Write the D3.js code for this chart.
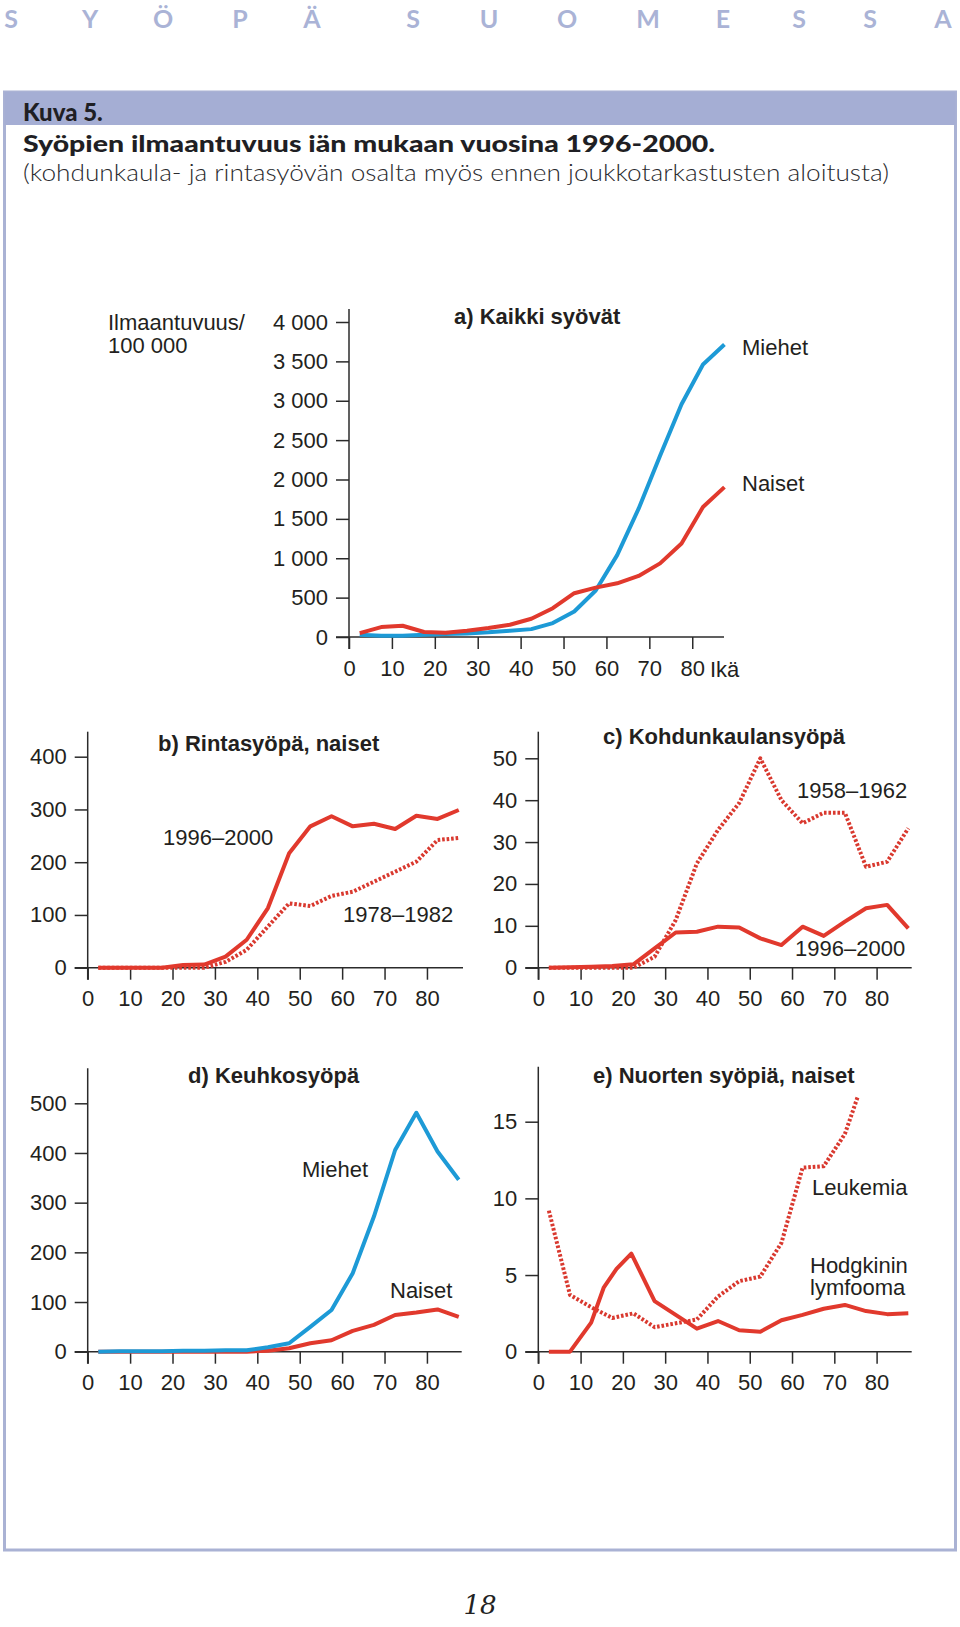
<!DOCTYPE html>
<html><head><meta charset="utf-8">
<script src="https://cdn.jsdelivr.net/npm/d3@7/dist/d3.min.js"></script>
<style>body{margin:0;background:#fff}svg{display:block}</style>
</head><body>
<script>
// ---------- DATA ----------
const headerLetters = ["S","Y","Ö","P","Ä","S","U","O","M","E","S","S","A"];
const ages = [2.5,7.5,12.5,17.5,22.5,27.5,32.5,37.5,42.5,47.5,52.5,57.5,62.5,67.5,72.5,77.5,82.5,87.5];
const allMen   = [30,17,17,30,38,46,59,80,100,177,324,590,1040,1630,2303,2956,3461,3714];
const allWomen = [50,126,143,63,55,80,114,156,232,366,556,627,682,775,935,1187,1650,1903];
const breast1996 = [0,0,0,0,5,6,21,53,113,217,268,287,268,273,263,288,282,299];
const breast1978 = [0,0,0,0,0,0,11,34,78,122,117,136,144,163,182,201,242,246];
const cervix1996 = [0,0.1,0.2,0.4,0.8,4.6,8.4,8.6,9.8,9.6,7.0,5.4,9.8,7.6,11.0,14.2,15.0,9.4];
const cervix1958 = [0,0,0,0,0,2.6,11.4,24.9,32.9,39.3,50,40,34.5,37,37,24.1,25.3,33.3];
const lungMen   = [0,1,1,1,2,2,3,3,9,17,50,84,158,272,406,481,403,346];
const lungWomen = [0,0,0,0,0,0,0,0,2,7,17,23,42,54,74,79,85,70];
const hodgkinAges = [2.5,7.5,12.5,15.5,18.5,22,27.5,32.5,37.5,42.5,47.5,52.5,57.5,62.5,67.5,72.5,77.5,82.5,87.5];
const hodgkin     = [0,0,1.9,4.2,5.4,6.4,3.3,2.4,1.5,2.0,1.4,1.3,2.05,2.4,2.8,3.05,2.65,2.45,2.5];
const leukemiaAges = [2.5,7.5,12.5,17.5,22.5,27.5,32.5,37.5,42.5,47.5,52.5,57.5,62.5,67.5,72.5,75.5];
const leukemia     = [9.2,3.7,2.9,2.2,2.5,1.6,1.85,2.1,3.6,4.6,4.9,7.1,12.0,12.1,14.2,16.6];
const xTicks = [0,10,20,30,40,50,60,70,80];
const yTicksA = [0,500,1000,1500,2000,2500,3000,3500,4000];
const yTicksB = [0,100,200,300,400];
const yTicksC = [0,10,20,30,40,50];
const yTicksD = [0,100,200,300,400,500];
const yTicksE = [0,5,10,15];

// ---------- STYLE ----------
const BLUE = "#1d9ad6", RED = "#e1392d", DOT = "#d9392f", AX = "#2b2b2b";
const SANS = "'Liberation Sans', Arial, Helvetica, sans-serif";
const HUM = "Lato, 'Open Sans', sans-serif";

const W = 960, H = 1627;
const svg = d3.select("body").append("svg").attr("width", W).attr("height", H)
  .attr("viewBox", `0 0 ${W} ${H}`);

// top running header
const letterX = [11,90,163,240,312,413,489,567,648,723,799,870,943];
svg.append("g").selectAll("text").data(headerLetters).join("text")
  .attr("x", (d,i) => letterX[i]).attr("y", 28).attr("text-anchor","middle")
  .attr("font-family", HUM).attr("font-size", 25).attr("font-weight", 700)
  .attr("fill", "#aab3d6").text(d => d);

// frame
svg.append("rect").attr("x", 4.5).attr("y", 92).attr("width", 951).attr("height", 1458)
  .attr("fill", "none").attr("stroke", "#aab2d4").attr("stroke-width", 3);
svg.append("rect").attr("x", 4.5).attr("y", 92).attr("width", 951).attr("height", 33)
  .attr("fill", "#a5aed4");

svg.append("text").attr("x", 23).attr("y", 121).attr("font-family", HUM)
  .attr("font-weight", 900).attr("font-size", 24).attr("fill", "#1f1f24").text("Kuva 5.");
svg.append("text").attr("x", 23).attr("y", 152).attr("font-family", HUM)
  .attr("font-weight", 900).attr("font-size", 22).attr("fill", "#1f1f24")
  .attr("textLength", 692).attr("lengthAdjust", "spacingAndGlyphs")
  .text("Syöpien ilmaantuvuus iän mukaan vuosina 1996-2000.");
svg.append("text").attr("x", 23).attr("y", 181).attr("font-family", HUM)
  .attr("font-weight", 300).attr("font-size", 23).attr("fill", "#2a2a2e")
  .attr("textLength", 866).attr("lengthAdjust", "spacingAndGlyphs")
  .text("(kohdunkaula- ja rintasyövän osalta myös ennen joukkotarkastusten aloitusta)");

// page number
svg.append("text").attr("x", 480).attr("y", 1614).attr("text-anchor","middle")
  .attr("font-family", "'DejaVu Serif', serif").attr("font-style","italic")
  .attr("font-weight", 300).attr("font-size", 26).attr("fill", "#222").text("18");

// ---------- PANELS ----------
const fmtSpace = v => d3.format(",")(v).replace(/,/g, " ");

function panel(cfg) {
  const g = svg.append("g");
  const x = d3.scaleLinear().domain([0, cfg.xMax]).range([cfg.x0, cfg.x1]);
  const y = d3.scaleLinear().domain([0, cfg.yMax]).range([cfg.y0, cfg.y1]);
  const ya = g.append("g").attr("transform", `translate(${cfg.x0},0)`)
    .call(d3.axisLeft(y).tickValues(cfg.yTicks).tickSize(13).tickPadding(8)
      .tickFormat(cfg.fmt || (d => d)));
  ya.select(".domain").remove();
  const xa = g.append("g").attr("transform", `translate(0,${cfg.y0})`)
    .call(d3.axisBottom(x).tickValues(xTicks).tickSize(12).tickPadding(11));
  xa.select(".domain").remove();
  [ya, xa].forEach(a => {
    a.selectAll("line").attr("stroke", AX).attr("stroke-width", 1.5);
    a.selectAll("text").attr("font-family", SANS).attr("font-size", 22).attr("fill", "#231f20");
  });
  g.append("line").attr("x1", cfg.x0).attr("x2", cfg.x0).attr("y1", cfg.yTop).attr("y2", cfg.y0 + 12)
    .attr("stroke", AX).attr("stroke-width", 1.5);
  g.append("line").attr("x1", cfg.x0 - 13).attr("x2", x(cfg.xMax)).attr("y1", cfg.y0).attr("y2", cfg.y0)
    .attr("stroke", AX).attr("stroke-width", 1.5);

  const line = d3.line().x(d => x(d[0])).y(d => y(d[1]));
  cfg.series.forEach(s => {
    g.append("path").datum(d3.zip(s.x, s.v)).attr("d", line)
      .attr("fill", "none").attr("stroke", s.color).attr("stroke-width", 4)
      .attr("stroke-linejoin", "round")
      .attr("stroke-dasharray", s.dotted ? "2.6,1.9" : null);
  });
  g.append("text").attr("x", cfg.title[1]).attr("y", cfg.title[2])
    .attr("font-family", SANS).attr("font-weight", 700).attr("font-size", 22)
    .attr("fill", "#231f20").text(cfg.title[0]);
  (cfg.labels || []).forEach(l => {
    g.append("text").attr("x", l[1]).attr("y", l[2]).attr("font-family", SANS)
      .attr("font-size", 22).attr("fill", "#231f20").text(l[0]);
  });
  return g;
}

panel({
  x0: 349, x1: 724, xMax: 87.4, y0: 637, y1: 322, yMax: 4000, yTop: 309,
  yTicks: yTicksA, fmt: fmtSpace,
  series: [
    {x: ages, v: allMen, color: BLUE},
    {x: ages, v: allWomen, color: RED}
  ],
  title: ["a) Kaikki syövät", 454, 324],
  labels: [["Miehet", 742, 355], ["Naiset", 742, 491], ["Ikä", 710, 677],
           ["Ilmaantuvuus/", 108, 330], ["100 000", 108, 353]]
});

panel({
  x0: 87.7, x1: 463, xMax: 88.5, y0: 967.7, y1: 756.7, yMax: 400, yTop: 731.7,
  yTicks: yTicksB,
  series: [
    {x: ages, v: breast1978, color: DOT, dotted: true},
    {x: ages, v: breast1996, color: RED}
  ],
  title: ["b) Rintasyöpä, naiset", 158, 751],
  labels: [["1996–2000", 163, 845], ["1978–1982", 343, 922]]
});

panel({
  x0: 538.3, x1: 911.7, xMax: 88.3, y0: 967.7, y1: 758.3, yMax: 50, yTop: 731.7,
  yTicks: yTicksC,
  series: [
    {x: ages, v: cervix1958, color: DOT, dotted: true},
    {x: ages, v: cervix1996, color: RED}
  ],
  title: ["c) Kohdunkaulansyöpä", 603, 744],
  labels: [["1958–1962", 797, 798], ["1996–2000", 795, 956]]
});

panel({
  x0: 87.7, x1: 461.7, xMax: 88.2, y0: 1351.7, y1: 1103.3, yMax: 500, yTop: 1068.3,
  yTicks: yTicksD,
  series: [
    {x: ages, v: lungWomen, color: RED},
    {x: ages, v: lungMen, color: BLUE}
  ],
  title: ["d) Keuhkosyöpä", 188, 1083],
  labels: [["Miehet", 302, 1177], ["Naiset", 390, 1298]]
});

panel({
  x0: 538.3, x1: 911.7, xMax: 88.3, y0: 1351.7, y1: 1121.7, yMax: 15, yTop: 1066.7,
  yTicks: yTicksE,
  series: [
    {x: leukemiaAges, v: leukemia, color: DOT, dotted: true},
    {x: hodgkinAges, v: hodgkin, color: RED}
  ],
  title: ["e) Nuorten syöpiä, naiset", 593, 1083],
  labels: [["Leukemia", 812, 1195], ["Hodgkinin", 810, 1273], ["lymfooma", 810, 1295]]
});
</script>
</body></html>
